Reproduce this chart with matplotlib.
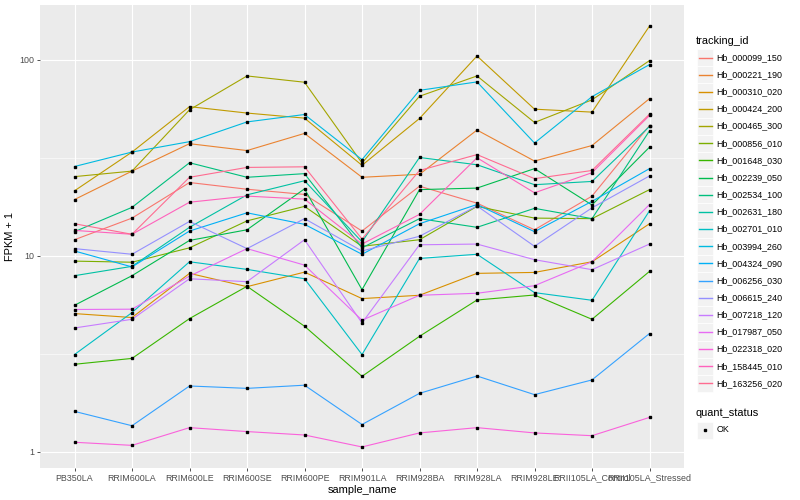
import matplotlib
matplotlib.use("Agg")
import matplotlib.pyplot as plt
from matplotlib.patches import Rectangle
from matplotlib.lines import Line2D
import numpy as np

plt.rcParams['font.family'] = ['Liberation Sans', 'DejaVu Sans']

samples = ['PB350LA', 'RRIM600LA', 'RRIM600LE', 'RRIM600SE', 'RRIM600PE', 'RRIM901LA',
           'RRIM928BA', 'RRIM928LA', 'RRIM928LE', 'RRII105LA_Control', 'RRII105LA_Stressed']

tracking_ids = ['Hb_000099_150', 'Hb_000221_190', 'Hb_000310_020', 'Hb_000424_200',
                'Hb_000465_300', 'Hb_000856_010', 'Hb_001648_030', 'Hb_002239_050',
                'Hb_002534_100', 'Hb_002631_180', 'Hb_002701_010', 'Hb_003994_260',
                'Hb_004324_090', 'Hb_006256_030', 'Hb_006615_240', 'Hb_007218_120',
                'Hb_017987_050', 'Hb_022318_020', 'Hb_158445_010', 'Hb_163256_020']

# ggplot default hue palette for 20 groups
colors = ['#F8766D', '#EA8331', '#D89000', '#C09B00', '#A3A500', '#7CAE00', '#39B600',
          '#00BB4E', '#00BF7D', '#00C1A3', '#00BFC4', '#00BAE0', '#00B0F6', '#35A2FF',
          '#9590FF', '#C77CFF', '#E76BF3', '#FA62DB', '#FF62BC', '#FF6C91']

# FPKM + 1, one value per sample (same order as samples)
hb_000099_150 = [12.1, 15.6, 23.7, 21.9, 20.6, 13.4, 22.7, 18.6, 13.6, 20.2, 46.3]
hb_000221_190 = [19.4, 27.1, 37.4, 34.5, 42.2, 25.2, 26.1, 43.9, 30.5, 36.6, 63.5]
hb_000310_020 = [5.08, 4.85, 8.15, 6.97, 8.27, 6.06, 6.3, 8.15, 8.24, 9.34, 14.6]
hb_000424_200 = [21.5, 33.9, 57.8, 53.6, 50.5, 29.0, 50.3, 104.8, 56.1, 54.2, 149.0]
hb_000465_300 = [25.4, 27.1, 55.7, 82.9, 77.0, 29.8, 65.3, 82.9, 48.0, 62.6, 99.3]
hb_000856_010 = [9.41, 9.29, 11.0, 15.1, 17.9, 11.2, 12.1, 17.9, 15.6, 15.5, 21.8]
hb_001648_030 = [2.80, 3.0, 4.79, 7.0, 4.38, 2.43, 3.89, 5.96, 6.32, 4.75, 8.34]
hb_002239_050 = [5.6, 7.93, 12.0, 13.6, 22.0, 6.73, 21.8, 22.2, 27.9, 18.2, 35.9]
hb_002534_100 = [13.3, 17.7, 29.9, 25.2, 26.3, 11.0, 15.5, 14.0, 17.5, 15.5, 43.5]
hb_002631_180 = [7.93, 8.85, 14.0, 20.5, 24.2, 11.8, 31.8, 29.2, 23.1, 24.0, 45.8]
hb_002701_010 = [3.14, 5.14, 9.34, 8.54, 7.65, 3.14, 9.71, 10.2, 6.5, 5.94, 17.0]
hb_003994_260 = [28.6, 33.9, 38.3, 48.3, 52.7, 31.0, 70.0, 77.3, 37.7, 65.0, 94.7]
hb_004324_090 = [10.6, 8.79, 13.4, 16.6, 14.5, 10.2, 14.6, 18.3, 13.3, 19.0, 27.9]
hb_006256_030 = [1.61, 1.36, 2.17, 2.11, 2.19, 1.38, 1.99, 2.44, 1.96, 2.33, 4.02]
hb_006615_240 = [10.9, 10.2, 15.0, 10.9, 15.5, 10.6, 12.6, 18.0, 11.2, 17.6, 25.6]
hb_007218_120 = [4.29, 4.75, 7.65, 7.39, 12.1, 4.55, 11.4, 11.5, 9.57, 8.51, 11.5]
hb_017987_050 = [5.33, 5.35, 7.89, 10.9, 8.98, 4.7, 6.3, 6.45, 7.05, 9.34, 18.3]
hb_022318_020 = [1.12, 1.08, 1.33, 1.27, 1.22, 1.06, 1.25, 1.33, 1.25, 1.21, 1.50]
hb_158445_010 = [13.5, 12.9, 18.8, 20.2, 19.5, 11.5, 16.3, 31.7, 21.0, 26.6, 52.1]
hb_163256_020 = [14.6, 12.9, 25.2, 28.3, 28.5, 12.2, 27.3, 32.9, 24.8, 27.3, 52.9]

fpkm = [hb_000099_150, hb_000221_190, hb_000310_020, hb_000424_200, hb_000465_300,
        hb_000856_010, hb_001648_030, hb_002239_050, hb_002534_100, hb_002631_180,
        hb_002701_010, hb_003994_260, hb_004324_090, hb_006256_030, hb_006615_240,
        hb_007218_120, hb_017987_050, hb_022318_020, hb_158445_010, hb_163256_020]

W, H = 800, 500
fig = plt.figure(figsize=(8, 5), dpi=100)
ax = fig.add_axes([40 / W, 1 - 468 / H, (684 - 40) / W, (468 - 5) / H])
ax.set_facecolor('#EBEBEB')

x = np.arange(len(samples))
for vals, col in zip(fpkm, colors):
    ax.plot(x, vals, color=col, lw=0.8, zorder=2)
for vals in fpkm:
    ax.plot(x, vals, ls='none', marker='s', ms=2.0, color='black', zorder=3)

ax.set_yscale('log')
lo = np.log10(min(min(v) for v in fpkm))
hi = np.log10(max(max(v) for v in fpkm))
pad = (hi - lo) * 0.05
ax.set_ylim(10 ** (lo - pad), 10 ** (hi + pad))
ax.set_xlim(-0.6, len(samples) - 0.4)

ax.set_yticks([1, 10, 100])
ax.set_yticklabels(['1', '10', '100'])
ax.set_yticks([10 ** 0.5, 10 ** 1.5], minor=True)
ax.yaxis.set_minor_formatter(matplotlib.ticker.NullFormatter())
ax.set_xticks(x)
ax.set_xticklabels(samples)

ax.grid(which='major', color='white', lw=0.8)
ax.grid(which='minor', axis='y', color='white', lw=0.4)
ax.set_axisbelow(True)
for s in ax.spines.values():
    s.set_visible(False)
ax.tick_params(axis='both', which='major', length=2.5, width=0.6, color='#333333',
               labelsize=6.4, labelcolor='#4D4D4D', pad=1.5)
ax.tick_params(axis='y', which='minor', length=0)

ax.set_xlabel('sample_name', fontsize=7.9, labelpad=2)
ax.set_ylabel('FPKM + 1', fontsize=7.9, labelpad=3)


def fx(px):
    return px / W


def fy(py):
    return 1 - py / H


# legend: tracking_id
fig.text(fx(696), fy(40.5), 'tracking_id', fontsize=7.9, va='center', ha='left')
key_top = 49.0
key_h = 17.15
for i, (name, col) in enumerate(zip(tracking_ids, colors)):
    y0 = key_top + i * key_h
    fig.add_artist(Rectangle((fx(697), fy(y0 + key_h)), 15.5 / W, key_h / H,
                             transform=fig.transFigure, facecolor='#F2F2F2',
                             edgecolor='white', lw=0.5))
    yc = y0 + key_h / 2
    fig.add_artist(Line2D([fx(698.5), fx(711.5)], [fy(yc), fy(yc)], color=col, lw=1.0,
                          transform=fig.transFigure))
    fig.text(fx(716.5), fy(yc), name, fontsize=6.4, va='center', ha='left')

# legend: quant_status
fig.text(fx(696), fy(412.5), 'quant_status', fontsize=7.9, va='center', ha='left')
fig.add_artist(Rectangle((fx(697), fy(421.5 + key_h)), 15.5 / W, key_h / H,
                         transform=fig.transFigure, facecolor='#F2F2F2',
                         edgecolor='white', lw=0.5))
fig.add_artist(Line2D([fx(705)], [fy(430)], ls='none', marker='s', ms=2.0, color='black',
                      transform=fig.transFigure))
fig.text(fx(716.5), fy(430), 'OK', fontsize=6.4, va='center', ha='left')

fig.savefig('out.png', dpi=100)
